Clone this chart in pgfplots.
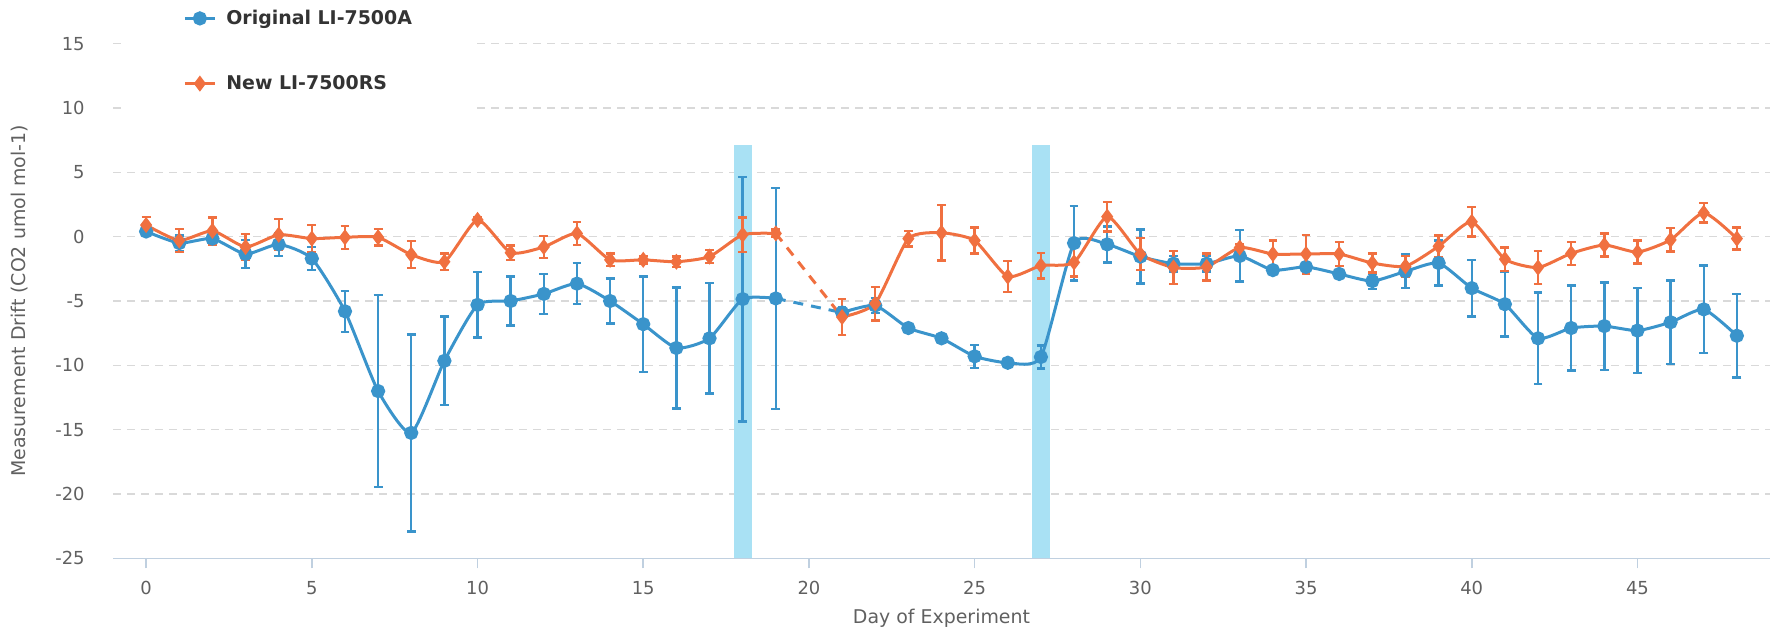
\documentclass[border=0pt]{standalone}
\usepackage{fontspec}
\setmainfont{DejaVu Sans}
\usepackage{pgfplots}
\usepackage{pgfplotstable}
\pgfplotsset{compat=1.18}
\definecolor{blueS}{HTML}{3A94CB}
\definecolor{orangeS}{HTML}{F07040}
\definecolor{bandC}{HTML}{A9E1F4}
\definecolor{gridC}{HTML}{D9D9D9}
\definecolor{axisC}{HTML}{C0D0E0}
\definecolor{tickT}{HTML}{606060}
\definecolor{legT}{HTML}{333333}

\pgfplotstableread{
x y e
0 0.4 0.3
1 -0.5 0.6
2 -0.15 0.5
3 -1.35 1.1
4 -0.6 0.9
5 -1.7 0.9
6 -5.8 1.6
7 -12.0 7.45
8 -15.25 7.65
9 -9.65 3.45
10 -5.3 2.55
11 -5.0 1.9
12 -4.45 1.55
13 -3.65 1.6
14 -5.0 1.75
15 -6.8 3.7
16 -8.65 4.7
17 -7.9 4.3
18 -4.85 9.5
19 -4.8 8.6
}\blueA

\pgfplotstableread{
x y e
21 -5.9 0.4
22 -5.35 0.6
23 -7.1 0.2
24 -7.9 0.2
25 -9.3 0.9
26 -9.8 0.2
27 -9.35 0.9
28 -0.5 2.9
29 -0.6 1.4
30 -1.55 2.1
31 -2.1 0.6
32 -2.1 0.6
33 -1.5 2.0
34 -2.6 0.3
35 -2.35 0.3
36 -2.9 0.3
37 -3.45 0.6
38 -2.7 1.3
39 -2.05 1.75
40 -4.0 2.2
41 -5.25 2.5
42 -7.9 3.55
43 -7.1 3.3
44 -6.95 3.4
45 -7.3 3.3
46 -6.65 3.25
47 -5.65 3.4
48 -7.7 3.25
}\blueB

\pgfplotstableread{
x y e
0 0.9 0.65
1 -0.3 0.9
2 0.45 1.05
3 -0.8 1.0
4 0.15 1.2
5 -0.15 1.05
6 -0.05 0.9
7 -0.05 0.65
8 -1.4 1.05
9 -1.95 0.65
10 1.3 0.25
11 -1.25 0.55
12 -0.8 0.85
13 0.25 0.9
14 -1.8 0.5
15 -1.8 0.3
16 -1.95 0.4
17 -1.55 0.5
18 0.15 1.35
19 0.25 0.3
}\orangeA

\pgfplotstableread{
x y e
21 -6.25 1.4
22 -5.2 1.3
23 -0.15 0.6
24 0.3 2.15
25 -0.3 1.0
26 -3.1 1.2
27 -2.25 1.0
28 -2.0 1.1
29 1.55 1.15
30 -1.35 1.25
31 -2.4 1.3
32 -2.35 1.05
33 -0.85 0.3
34 -1.35 1.05
35 -1.35 1.5
36 -1.35 0.95
37 -2.05 0.75
38 -2.3 0.8
39 -0.75 0.85
40 1.15 1.15
41 -1.75 0.9
42 -2.4 1.3
43 -1.3 0.9
44 -0.65 0.9
45 -1.2 0.9
46 -0.25 0.9
47 1.85 0.75
48 -0.15 0.85
}\orangeB

\begin{document}
\begin{tikzpicture}
\useasboundingbox (0,0) rectangle (886.5bp,315bp);
\begin{axis}[
  at={(56.5bp,35.8bp)}, anchor=south west,
  width=828.5bp, height=257.4bp, scale only axis,
  xmin=-1, xmax=49, ymin=-25, ymax=15,
  axis x line*=bottom, axis y line*=left,
  x axis line style={draw=axisC, line width=0.8bp, -},
  y axis line style={draw=none, -},
  xtick={0,5,...,45}, ytick={-25,-20,...,15},
  tick align=outside,
  major tick length=5bp,
  x tick style={draw=axisC, line width=0.8bp},
  y tick style={draw=none},
  ymajorgrids,
  grid style={draw=gridC, line width=0.6bp, dash pattern=on 4bp off 3bp},
  /pgf/number format/assume math mode=true,
  ticklabel style={font=\fontsize{9}{10}\selectfont, text=tickT},
  yticklabel style={anchor=east, inner sep=0pt, xshift=-9bp},
  xticklabel style={anchor=center, inner sep=0pt, yshift=-9.8bp},
  xlabel={Day of Experiment},
  ylabel={Measurement Drift (CO2 umol mol-1)},
  label style={font=\fontsize{9.5}{11}\selectfont, text=tickT},
  xlabel style={at={(axis description cs:0.5,0)}, anchor=center, yshift=-29.8bp},
  ylabel style={at={(axis description cs:-0.0561,0.5)}, anchor=center, rotate=0},
  legend style={at={(0.00724,1.1054)}, anchor=north west, draw=none, fill=white,
    inner xsep=29bp, inner ysep=8bp,
    font=\fontsize{9.5}{11}\selectfont\bfseries, text=legT,
    row sep=20bp, column sep=3bp},
  legend cell align=left,
  legend image code/.code={\draw[mark repeat=2,mark phase=2,#1] plot coordinates {(0bp,0bp) (7.5bp,0bp) (15bp,0bp)};},
  every axis plot/.append style={line width=1.5bp},
]
% highlighted days
\addplot[fill=bandC, draw=none, forget plot] coordinates {(17.73,-25) (18.27,-25) (18.27,7.1) (17.73,7.1)} -- cycle;
\addplot[fill=bandC, draw=none, forget plot] coordinates {(26.73,-25) (27.27,-25) (27.27,7.1) (26.73,7.1)} -- cycle;

\addplot[blueS, smooth, tension=0.35, mark=*, mark size=2.8bp,
  mark options={solid, fill=blueS, draw=blueS},
  error bars/.cd, y dir=both, y explicit,
  error bar style={line width=1.2bp, solid, blueS},
  error mark options={rotate=90, mark size=2.2bp, line width=1.2bp, blueS}]
  table[x=x, y=y, y error=e] {\blueA};
\addlegendentry{Original LI-7500A}

\addplot[orangeS, smooth, tension=0.35, mark=diamond*, mark size=2.8bp,
  mark options={solid, fill=orangeS, draw=orangeS},
  error bars/.cd, y dir=both, y explicit,
  error bar style={line width=1.2bp, solid, orangeS},
  error mark options={rotate=90, mark size=2.2bp, line width=1.2bp, orangeS}]
  table[x=x, y=y, y error=e] {\orangeA};
\addlegendentry{New LI-7500RS}

\addplot[blueS, dash pattern=on 5bp off 4bp, forget plot] coordinates {(19,-4.8) (21,-5.9)};
\addplot[blueS, smooth, tension=0.35, mark=*, mark size=2.8bp, forget plot,
  mark options={solid, fill=blueS, draw=blueS},
  error bars/.cd, y dir=both, y explicit,
  error bar style={line width=1.2bp, solid, blueS},
  error mark options={rotate=90, mark size=2.2bp, line width=1.2bp, blueS}]
  table[x=x, y=y, y error=e] {\blueB};

\addplot[orangeS, dash pattern=on 5bp off 4bp, forget plot] coordinates {(19,0.25) (21,-6.25)};
\addplot[orangeS, smooth, tension=0.35, mark=diamond*, mark size=2.8bp, forget plot,
  mark options={solid, fill=orangeS, draw=orangeS},
  error bars/.cd, y dir=both, y explicit,
  error bar style={line width=1.2bp, solid, orangeS},
  error mark options={rotate=90, mark size=2.2bp, line width=1.2bp, orangeS}]
  table[x=x, y=y, y error=e] {\orangeB};
\end{axis}
\end{tikzpicture}
\end{document}
